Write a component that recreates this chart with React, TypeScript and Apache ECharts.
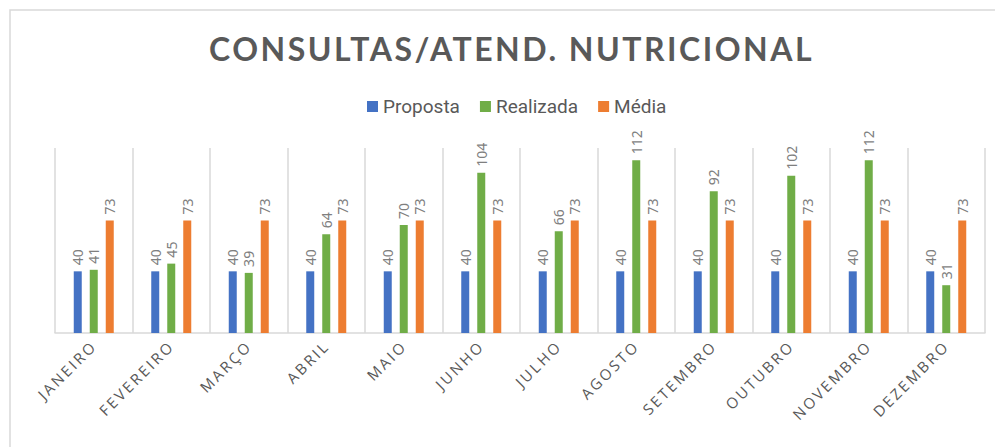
import React, { useEffect, useRef } from "react";
import * as echarts from "echarts";

const months = [
  "JANEIRO", "FEVEREIRO", "MARÇO", "ABRIL", "MAIO", "JUNHO",
  "JULHO", "AGOSTO", "SETEMBRO", "OUTUBRO", "NOVEMBRO", "DEZEMBRO",
];
const proposta = [40, 40, 40, 40, 40, 40, 40, 40, 40, 40, 40, 40];
const realizada = [41, 45, 39, 64, 70, 104, 66, 112, 92, 102, 112, 31];
const media = [73, 73, 73, 73, 73, 73, 73, 73, 73, 73, 73, 73];

const COLORS = ["#4472C4", "#70AD47", "#ED7D31"];

export default function App() {
  const ref = useRef<HTMLDivElement>(null);
  useEffect(() => {
    if (!ref.current) return;
    const chart = echarts.init(ref.current, undefined, { renderer: "svg" });
    const label = {
      show: true,
      position: "top" as const,
      rotate: 90,
      align: "left" as const,
      verticalAlign: "middle" as const,
      distance: 6,
      color: "#7f7f7f",
      fontSize: 14,
      fontFamily: "Noto Sans",
    };
    const mk = (name: string, data: number[], i: number) => ({
      name,
      type: "bar" as const,
      data,
      barWidth: 8,
      barGap: "100%",
      itemStyle: { color: COLORS[i] },
      label,
    });
    chart.setOption({
      animation: false,
      backgroundColor: "#ffffff",
      title: {
        text: "CONSULTAS/ATEND. NUTRICIONAL",
        left: 204,
        top: 27,
        textStyle: {
          fontFamily: "Lato",
          fontWeight: "bold",
          fontSize: 32,
          color: "#595959",
        },
      },
      legend: {
        left: 362,
        top: 92,
        itemWidth: 11,
        itemHeight: 11,
        itemGap: 20,
        icon: "rect",
        textStyle: { fontFamily: "Roboto", fontSize: 19, color: "#595959" },
        data: ["Proposta", "Realizada", "Média"],
      },
      graphic: [
        {
          type: "rect",
          shape: { x: 10, y: 10, width: 1000, height: 500 },
          style: { fill: "none", stroke: "#d9d9d9", lineWidth: 1.5 },
          silent: true,
        },
      ],
      grid: { left: 55, right: 10, top: 148, bottom: 114 },
      xAxis: {
        type: "category",
        data: months,
        axisTick: { show: false },
        axisLine: { lineStyle: { color: "#d9d9d9", width: 1.5 } },
        splitLine: { show: true, lineStyle: { color: "#d9d9d9", width: 1.5 } },
        axisLabel: {
          rotate: 45,
          interval: 0,
          margin: 10,
          fontFamily: "Open Sans",
          fontSize: 15,
          color: "#595959",
        },
      },
      yAxis: {
        type: "value",
        min: 0,
        max: 120,
        show: false,
        splitLine: { show: false },
      },
      series: [
        mk("Proposta", proposta, 0),
        mk("Realizada", realizada, 1),
        mk("Média", media, 2),
      ],
    });
    return () => chart.dispose();
  }, []);
  return (
    <>
      <style>{`
        text[style*="Lato"] { letter-spacing: 2.5px; }
        text[style*="Open Sans"] { letter-spacing: 2.5px; }
      `}</style>
      <div
        ref={ref}
        style={{ position: "fixed", left: 0, top: 0, width: 995, height: 447 }}
      />
    </>
  );
}
